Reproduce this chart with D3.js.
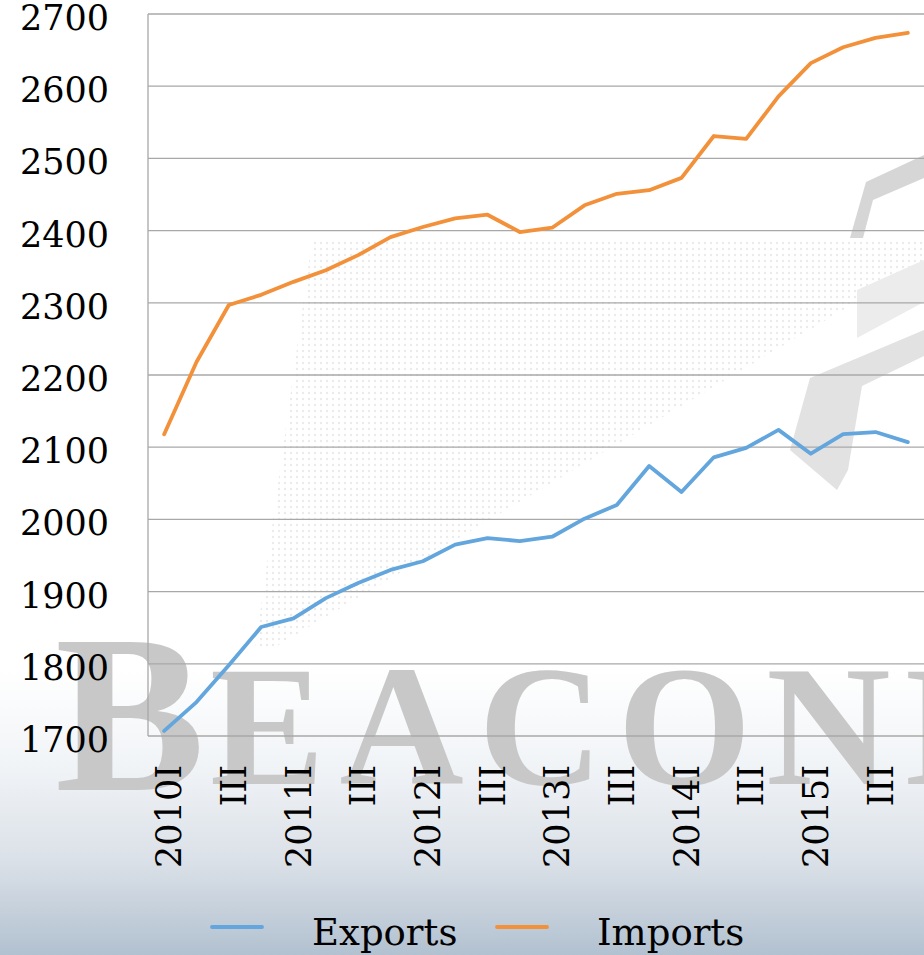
<!DOCTYPE html>
<html>
<head>
<meta charset="utf-8">
<script src="https://cdn.jsdelivr.net/npm/d3@7"></script>
<style>
  html, body { margin: 0; padding: 0; background: #fff; }
  svg { display: block; }
</style>
</head>
<body>
<div id="chart-div"></div>
<script>
// Data
const quarters = [
  '2010I', 'II', 'III', 'IV',
  '2011I', 'II', 'III', 'IV',
  '2012I', 'II', 'III', 'IV',
  '2013I', 'II', 'III', 'IV',
  '2014I', 'II', 'III', 'IV',
  '2015I', 'II', 'III', 'IV'
];
const exportsValues = [1707, 1747, 1798, 1851, 1863, 1891, 1912, 1930, 1942, 1965, 1974, 1970,
                       1976, 2001, 2020, 2074, 2038, 2086, 2099, 2124, 2091, 2118, 2121, 2107];
const importsValues = [2118, 2218, 2297, 2311, 2329, 2345, 2366, 2391, 2405, 2417, 2422, 2398,
                       2404, 2435, 2451, 2456, 2473, 2531, 2527, 2586, 2632, 2654, 2667, 2674];
const yTicks = [1700, 1800, 1900, 2000, 2100, 2200, 2300, 2400, 2500, 2600, 2700];
const seriesNames = ['Exports', 'Imports'];

// Constants for layout
const WIDTH = 924;
const HEIGHT = 955;
const PLOT = { left: 148, right: 924, top: 14, bottom: 736 };
const COLORS = { Exports: '#62a6dd', Imports: '#f2913a' };
const FONT = '"DejaVu Serif", serif';

const svg = d3.select('#chart-div')
  .append('svg')
  .attr('width', WIDTH)
  .attr('height', HEIGHT);

const defs = svg.append('defs');

// background gradient (white fading to steel blue at the bottom)
const grad = defs.append('linearGradient')
  .attr('id', 'bg-grad')
  .attr('x1', 0).attr('y1', 0).attr('x2', 0).attr('y2', 1);
[[0, '#ffffff'], [0.7, '#ffffff'], [0.8, '#f1f4f7'], [0.9, '#dbe1e8'], [1, '#b2c1d0']]
  .forEach(s => grad.append('stop').attr('offset', s[0]).attr('stop-color', s[1]));

// dotted pattern for the watermark
const pat = defs.append('pattern')
  .attr('id', 'dots')
  .attr('width', 6).attr('height', 6)
  .attr('patternUnits', 'userSpaceOnUse');
pat.append('circle').attr('cx', 3).attr('cy', 3).attr('r', 1.2).attr('fill', '#ebebeb');

svg.append('rect')
  .attr('width', WIDTH)
  .attr('height', HEIGHT)
  .attr('fill', 'url(#bg-grad)');

// watermark (logo shapes + BEACONE lettering)
const wm = svg.append('g').attr('class', 'watermark');
wm.append('polygon')
  .attr('points', '312,240 924,240 924,262 270,650 255,650')
  .attr('fill', 'url(#dots)');
wm.append('polygon')
  .attr('points', '850,238 866,182 924,155 924,178 873,200 863,238')
  .attr('fill', '#d6d6d6');
wm.append('polygon')
  .attr('points', '857,290 924,260 924,302 857,338')
  .attr('fill', '#ececec');
wm.append('polygon')
  .attr('points', '790,450 810,378 924,330 924,356 862,386 848,470 837,490')
  .attr('fill', '#e2e2e2');
wm.append('text')
  .attr('x', 55).attr('y', 790)
  .attr('font-family', '"Liberation Serif", serif')
  .attr('font-weight', 'bold')
  .attr('font-size', 225)
  .attr('fill', '#c8c8c8')
  .text('B');
wm.append('text')
  .attr('x', 210).attr('y', 784)
  .attr('font-family', '"Liberation Serif", serif')
  .attr('font-weight', 'bold')
  .attr('font-size', 172)
  .attr('fill', '#c8c8c8')
  .attr('textLength', 810)
  .attr('lengthAdjust', 'spacing')
  .text('EACONE');

// scales (band scale over quarter index, labels repeat)
const xScale = d3.scaleBand()
  .domain(d3.range(quarters.length))
  .range([PLOT.left, PLOT.right]);

const xCenter = i => xScale(i) + xScale.bandwidth() / 2;

const yScale = d3.scaleLinear()
  .domain([1700, 2700])
  .range([PLOT.bottom, PLOT.top]);

// gridlines
svg.append('g')
  .attr('class', 'grid')
  .selectAll('line')
  .data(yTicks)
  .join('line')
  .attr('x1', PLOT.left)
  .attr('x2', PLOT.right)
  .attr('y1', d => yScale(d))
  .attr('y2', d => yScale(d))
  .attr('stroke', '#a8a8a8')
  .attr('stroke-width', 1.3);

// left axis line
svg.append('line')
  .attr('x1', PLOT.left).attr('x2', PLOT.left)
  .attr('y1', PLOT.top).attr('y2', PLOT.bottom)
  .attr('stroke', '#a8a8a8')
  .attr('stroke-width', 1.3);

// y tick labels
svg.append('g')
  .attr('class', 'y-labels')
  .selectAll('text')
  .data(yTicks)
  .join('text')
  .attr('x', 109)
  .attr('y', d => yScale(d) + 16)
  .attr('text-anchor', 'end')
  .attr('font-family', FONT)
  .attr('font-size', 35)
  .attr('fill', '#000')
  .text(d => d);

// x tick labels, rotated, every other quarter
svg.append('g')
  .attr('class', 'x-labels')
  .selectAll('text')
  .data(d3.range(0, quarters.length, 2))
  .join('text')
  .attr('transform', i => `translate(${xCenter(i) + 5}, 765) rotate(-90)`)
  .attr('dy', '0.35em')
  .attr('text-anchor', 'end')
  .attr('font-family', FONT)
  .attr('font-size', 35)
  .attr('fill', '#000')
  .text(i => quarters[i]);

// lines
const series = [
  { name: 'Exports', values: exportsValues },
  { name: 'Imports', values: importsValues }
];

const lineGenerator = d3.line()
  .x((d, i) => xCenter(i))
  .y(d => yScale(d));

svg.append('g')
  .attr('class', 'lines')
  .selectAll('path')
  .data(series)
  .join('path')
  .attr('d', d => lineGenerator(d.values))
  .attr('fill', 'none')
  .attr('stroke', d => COLORS[d.name])
  .attr('stroke-width', 3.8)
  .attr('stroke-linejoin', 'round')
  .attr('stroke-linecap', 'round');

// legend
const legendX = [212, 497];
const legend = svg.append('g')
  .attr('class', 'legend')
  .selectAll('g')
  .data(seriesNames)
  .join('g')
  .attr('transform', (d, i) => `translate(${legendX[i]}, 927)`);

legend.append('line')
  .attr('x1', 0).attr('x2', 50)
  .attr('y1', 0).attr('y2', 0)
  .attr('stroke', d => COLORS[d])
  .attr('stroke-width', 3.8)
  .attr('stroke-linecap', 'round');

legend.append('text')
  .attr('x', 100)
  .attr('y', 18)
  .attr('font-family', FONT)
  .attr('font-size', 37)
  .attr('fill', '#000')
  .text(d => d);
</script>
</body>
</html>
